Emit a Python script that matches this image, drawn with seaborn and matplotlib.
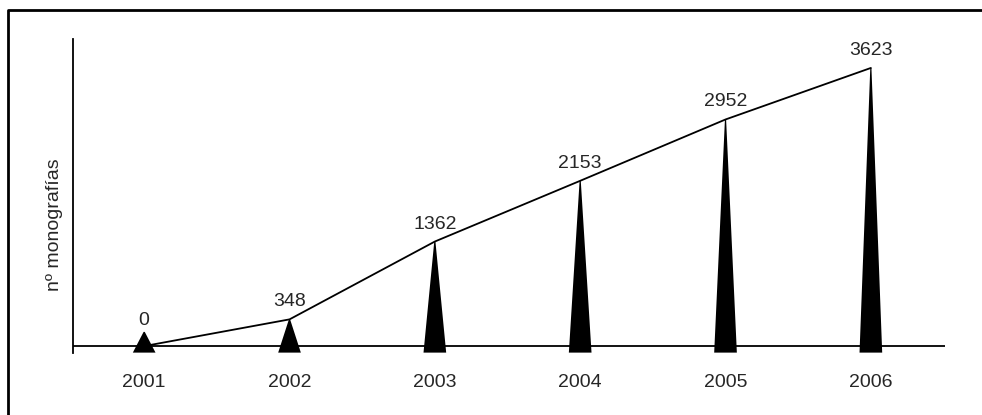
import matplotlib
matplotlib.use("Agg")
import matplotlib.pyplot as plt
from matplotlib.lines import Line2D
import seaborn as sns

# data
years = ["2001", "2002", "2003", "2004", "2005", "2006"]
monografias = [0, 348, 1362, 2153, 2952, 3623]

sns.set_style("white")
plt.rcParams["font.family"] = ["Liberation Sans", "DejaVu Sans"]

fig = plt.figure(figsize=(9.82, 4.15), dpi=100)
ax = fig.add_axes([0.0743, 0.1494, 0.888, 0.7566])

pos = list(range(len(years)))
ymin, ymax = -90, 4000
half_w = 0.078      # half width of each cone base (x units)
min_h = 185         # smallest visible cone height

# black cones from below the axis up to each value
for x, v in zip(pos, monografias):
    top = max(v, min_h)
    ax.fill([x - half_w, x - 0.004, x + 0.004, x + half_w],
            [ymin + 5, top, top, ymin + 5], color="black", lw=0, zorder=2)

# connecting line
sns.lineplot(x=pos, y=monografias, color="black", lw=1.3, ax=ax, zorder=3)

for x, v in zip(pos, monografias):
    ax.annotate(str(v), (x, max(v, min_h * 0.6)), xytext=(0, 6.5),
                textcoords="offset points", ha="center", va="bottom", fontsize=14)

ax.axhline(0, color="black", lw=1.3, zorder=1)
ax.set_xlim(-0.49, 5.51)
ax.set_ylim(ymin, ymax)
ax.set_xticks(pos)
ax.set_xticklabels(years, fontsize=14)
ax.tick_params(axis="x", length=0, pad=15)
ax.set_yticks([])
for s in ["top", "right", "bottom"]:
    ax.spines[s].set_visible(False)
ax.spines["left"].set_color("black")
ax.spines["left"].set_linewidth(1.3)

fig.text(0.055, 0.458, "nº monografías", rotation=90, ha="center", va="center", fontsize=14)

# outer frame (left and top edges)
fig.add_artist(Line2D([8 / 982, 8 / 982, 1.0], [0.0, 1 - 10 / 415, 1 - 10 / 415],
                      transform=fig.transFigure, color="black", lw=2))

fig.savefig("out.png", dpi=100)
